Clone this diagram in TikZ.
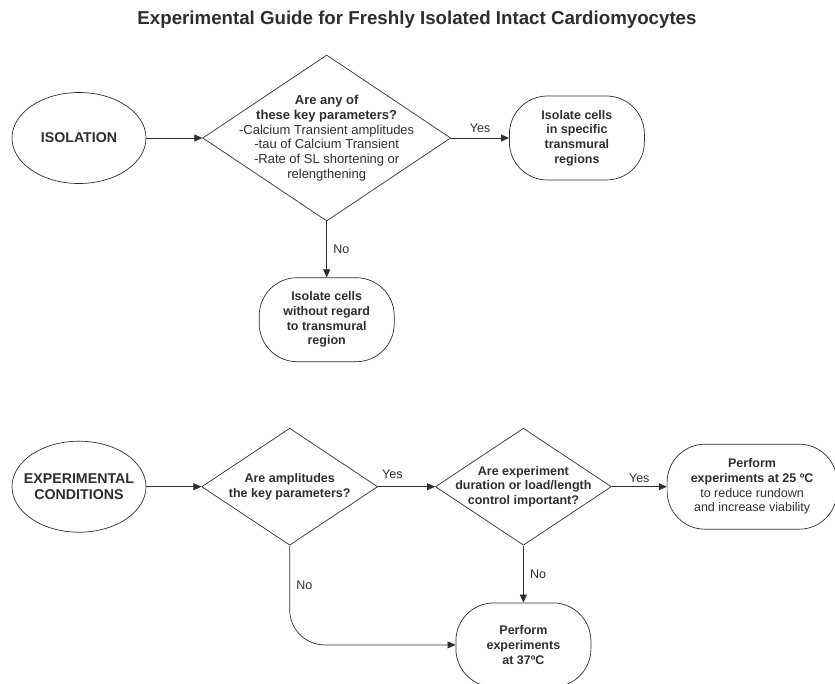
\documentclass[tikz,border=0pt]{standalone}
\usepackage{fontspec}
\setmainfont{Liberation Sans}
\usetikzlibrary{positioning,arrows.meta,shapes.geometric}
\definecolor{ink}{HTML}{2E2E2E}

\begin{document}
\begin{tikzpicture}[>={Triangle[length=8pt,width=7pt]},node distance=56pt,
   color=ink,line width=0.7pt,
   every node/.style={font=\fontsize{12.5}{14.7}\selectfont},
   oval/.style={draw,ellipse,minimum width=134pt,minimum height=91pt},
   ovaltext/.style={align=center,font=\fontsize{14.2}{16.5}\selectfont\bfseries},
   query/.style={draw,diamond,minimum width=176pt,minimum height=117pt},
   asktext/.style={align=center,font=\fontsize{12.5}{14.5}\selectfont\bfseries},
   outcome/.style={draw,rectangle,rounded corners=38pt,minimum width=135pt,
     minimum height=84pt,align=center,inner sep=0pt}]
  \useasboundingbox (0,0) rectangle (835pt,-683pt);
  \node (title) at (417pt,-20pt) {\fontsize{18.7}{22}\selectfont\bfseries
    Experimental Guide for Freshly Isolated Intact Cardiomyocytes};
  \node (iso) [oval,label={[ovaltext]center:ISOLATION}] at (79pt,-138pt) {};
  \node (q1) [query,minimum width=248pt,minimum height=166pt,right=of iso,
    label={[align=center,font=\fontsize{13}{14.7}\selectfont]center:\textbf{Are any of}\\
      \textbf{these key parameters?}\\
      -Calcium Transient amplitudes\\-tau of Calcium Transient\\
      -Rate of SL shortening or\\relengthening}] {};
  \node (spec) [outcome,right=58pt of q1] {\textbf{Isolate cells}\\\textbf{in specific}\\
    \textbf{transmural}\\\textbf{regions}};
  \node (nore) [outcome,below=of q1] {\textbf{Isolate cells}\\\textbf{without regard}\\
    \textbf{to transmural}\\\textbf{region}};
  \node (expc) [oval,below=257pt of iso,
    label={[ovaltext]center:EXPERIMENTAL\\CONDITIONS}] {};
  \node (q2) [query,right=55pt of expc,
    label={[asktext]center:Are amplitudes\\the key parameters?}] {};
  \node (q3) [query,right=57pt of q2,
    label={[asktext]center:Are experiment\\duration or load/length\\control important?}] {};
  \node (p25) [outcome,minimum width=170pt,minimum height=85pt,right=55pt of q3]
    {\textbf{Perform}\\\textbf{experiments at 25 ºC}\\to reduce rundown\\and increase viability};
  \node (p37) [outcome,below=57pt of q3] {\textbf{Perform}\\\textbf{experiments}\\
    \textbf{at 37ºC}};
  \draw[->] (iso) -- (q1);
  \draw[->] (q1) -- node[above=2pt]{Yes} (spec);
  \draw[->] (q1) -- node[right=3pt]{No} (nore);
  \draw[->] (expc) -- (q2);
  \draw[->] (q2) -- node[above=4pt,pos=.25]{Yes} (q3);
  \draw[->] (q3) -- node[above]{Yes} (p25);
  \draw[->] (q3) -- node[right=3pt]{No} (p37);
  \draw[->,rounded corners=35pt] (q2) -- node[right=3pt,pos=.4]{No} (q2 |- p37) -- (p37);
\end{tikzpicture}
\end{document}
